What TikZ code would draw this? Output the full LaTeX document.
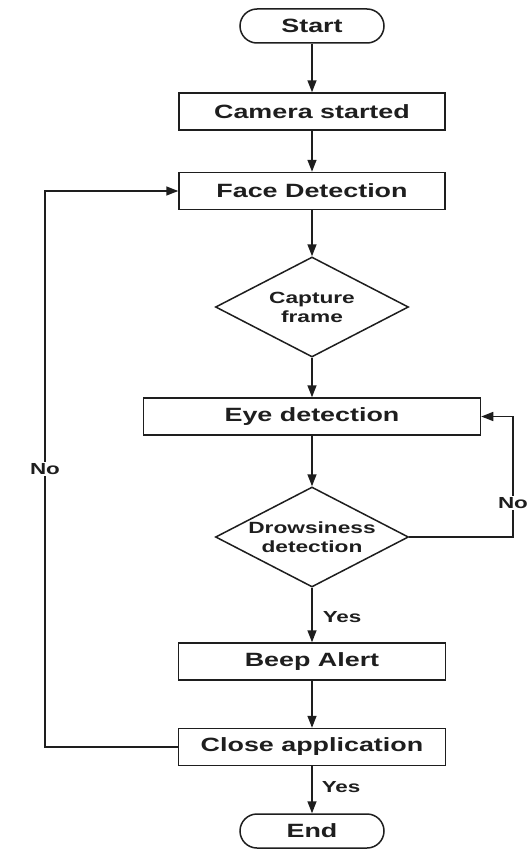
\documentclass[tikz,border=0pt]{standalone}
\usepackage{fontspec}
\newfontfamily\labfont[FakeStretch=1.4]{Liberation Sans}
\usetikzlibrary{shapes.geometric,arrows.meta}
\definecolor{ink}{RGB}{30,30,30}
\begin{document}
\begin{tikzpicture}[x=1pt,y=-1pt,
  color=ink, line width=1.5pt,
  font=\labfont\bfseries\fontsize{19.2}{22}\selectfont,
  procbox/.style={draw, rectangle, minimum height=37pt, inner sep=0pt},
  term/.style={draw, rectangle, rounded corners=17pt, minimum width=144pt, minimum height=34pt, inner sep=0pt},
  decision/.style={draw, diamond, aspect=1.93, inner sep=0pt, minimum width=193pt, minimum height=100pt, align=center,
    font=\labfont\bfseries\fontsize{16.2}{19}\selectfont},
  arr/.style={-{Triangle[length=12pt,width=9pt]}},
  lbl/.style={inner sep=1pt, font=\labfont\bfseries\fontsize{16}{18}\selectfont}]
\useasboundingbox (0,0) rectangle (531,851);
\fill[white] (0,0) rectangle (531,851);

\node[term] (start) at (312,26) {Start};
\node[procbox, minimum width=266pt] (cam) at (312,111.5) {Camera started};
\node[procbox, minimum width=266pt] (face) at (312,191) {Face Detection};
\node[decision] (cap) at (312,307) {Capture\\frame};
\node[procbox, minimum width=337pt] (eye) at (312,416.5) {Eye detection};
\node[decision] (drow) at (312,537) {Drowsiness\\detection};
\node[procbox, minimum width=267pt] (beep) at (312,661.5) {Beep Alert};
\node[procbox, minimum width=267pt] (close) at (312,747) {Close application};
\node[term] (end) at (312,831) {End};

\draw[arr] (start) -- (cam);
\draw[arr] (cam) -- (face);
\draw[arr] (face) -- (cap);
\draw[arr] (cap) -- (eye);
\draw[arr] (eye) -- (drow);
\draw[arr] (drow) -- (beep);
\draw[arr] (beep) -- (close);
\draw[arr] (close) -- (end);

\coordinate (rc) at (513,537);
\draw[arr] (drow.east) -- (drow.east -| rc) -- (rc |- eye.east) -- (eye.east);
\node[lbl, fill=white] (norgt) at (513,503) {No};

\coordinate (lc) at (45,747);
\draw[arr] (close.west) -- (close.west -| lc) -- (lc |- face.west) -- (face.west);
\node[lbl, fill=white] (nolft) at (45,469) {No};

\node[lbl, anchor=west] (yes1) at (321,617) {Yes};
\node[lbl, anchor=west] (yes2) at (320,787) {Yes};
\end{tikzpicture}
\end{document}
